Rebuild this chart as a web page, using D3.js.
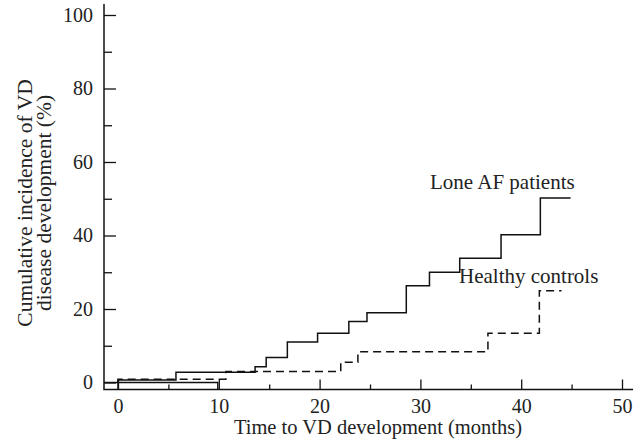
<!DOCTYPE html>
<meta charset="utf-8">
<head>
    <title>Cumulative incidence of VD</title>
    <script src="https://d3js.org/d3.v7.min.js"></script>
    <style>
        body { margin: 0; background: #fff; }
        text { font-family: "Liberation Serif", "DejaVu Serif", serif; fill: #222; }
    </style>
</head>

<body>
    <div id="svg-container"></div>
</body>

<script>

const width = 642;
const height = 448;

// step series: time (months) where the step starts, value (%) after it
const loneTimes  = [0, 5.75, 13.6, 14.7, 16.8, 19.8, 22.9, 24.7, 28.6, 30.9, 33.9, 38.0, 41.9];
const loneValues = [0.7, 2.8, 4.3, 6.8, 11.0, 13.4, 16.6, 19.0, 26.3, 30.0, 33.8, 40.2, 50.2];
const loneEnd = 44.9;

const healthyTimes  = [0, 10.7, 22.1, 23.8, 36.7, 41.8];
const healthyValues = [0.9, 3.0, 5.5, 8.4, 13.4, 25.0];
const healthyEnd = 44.0;

// little zero segment near the origin that drops back to the axis
const zeroTimes = [-1.4, 9.9];

const xTicks = [0, 10, 20, 30, 40, 50];
const xMinor = [5, 15, 25, 35, 45];
const yTicks = [0, 20, 40, 60, 80, 100];
const yMinor = [10, 30, 50, 70, 90];

const serif = '"Liberation Serif", "DejaVu Serif", serif';

const x = d3.scaleLinear().domain([0, 50]).range([118, 622]);
const y = d3.scaleLinear().domain([0, 100]).range([382.5, 15]);
const baseY = 389.5;
const axisLeft = 104;
const axisRight = 633;

const svg = d3.select("#svg-container")
              .append("svg")
                .attr("width", width)
                .attr("height", height);

function stepPath(times, values, end, fromBase) {
    let p = "M" + x(times[0]) + "," + (fromBase ? baseY : y(0));
    times.forEach(function(t, i) {
        p += "V" + y(values[i]);
        p += "H" + (i + 1 < times.length ? x(times[i + 1]) : x(end));
    });
    return p;
}

function styleTicks(g) {
    g.select(".domain").remove();
    g.attr("font-family", serif).attr("font-size", 20);
    g.selectAll("text").attr("fill", "#222");
}

// x axis
svg.append("g")
    .attr("transform", `translate(0,${baseY})`)
    .call(d3.axisBottom(x).tickValues(xTicks).tickSize(-10).tickPadding(9).tickFormat(d3.format("d")))
    .call(styleTicks);

svg.append("g")
    .attr("transform", `translate(0,${baseY})`)
    .call(d3.axisBottom(x).tickValues(xMinor).tickSize(-5).tickFormat(""))
    .call(styleTicks);

// y axis
svg.append("g")
    .attr("transform", `translate(${axisLeft},0)`)
    .call(d3.axisLeft(y).tickValues(yTicks).tickSize(-12).tickPadding(11).tickFormat(d3.format("d")))
    .call(styleTicks);

svg.append("g")
    .attr("transform", `translate(${axisLeft},0)`)
    .call(d3.axisLeft(y).tickValues(yMinor).tickSize(-8).tickFormat(""))
    .call(styleTicks);

svg.selectAll(".tick line").attr("stroke", "#111").attr("stroke-width", 1.3);

svg.append("path")
    .attr("d", `M${axisLeft},4V${baseY}H${axisRight}`)
    .attr("fill", "none")
    .attr("stroke", "#111")
    .attr("stroke-width", 1.5);

// curves
svg.append("path")
    .attr("d", "M" + x(zeroTimes[0]) + "," + y(0) + "H" + x(zeroTimes[1]) + "V" + baseY)
    .attr("fill", "none")
    .attr("stroke", "#111")
    .attr("stroke-width", 1.4);

svg.append("path")
    .attr("d", stepPath(loneTimes, loneValues, loneEnd, true))
    .attr("fill", "none")
    .attr("stroke", "#111")
    .attr("stroke-width", 1.5);

svg.append("path")
    .attr("d", stepPath(healthyTimes, healthyValues, healthyEnd, false))
    .attr("fill", "none")
    .attr("stroke", "#111")
    .attr("stroke-width", 1.5)
    .attr("stroke-dasharray", "8,5");

// labels
svg.append("text")
    .attr("x", 430).attr("y", 189)
    .attr("font-family", serif)
    .style("font-size", "21px")
    .text("Lone AF patients");

svg.append("text")
    .attr("x", 459).attr("y", 283)
    .attr("font-family", serif)
    .style("font-size", "21px")
    .text("Healthy controls");

svg.append("text")
    .attr("x", 378).attr("y", 434)
    .attr("text-anchor", "middle")
    .attr("font-family", serif)
    .style("font-size", "20.5px")
    .text("Time to VD development (months)");

const yTitle = svg.append("text")
    .attr("transform", "translate(31.5,203) rotate(-90)")
    .attr("text-anchor", "middle")
    .attr("font-family", serif)
    .style("font-size", "21.5px");
yTitle.append("tspan").attr("x", 0).attr("y", 0).text("Cumulative incidence of VD");
yTitle.append("tspan").attr("x", 0).attr("y", 19).text("disease development (%)");

</script>
